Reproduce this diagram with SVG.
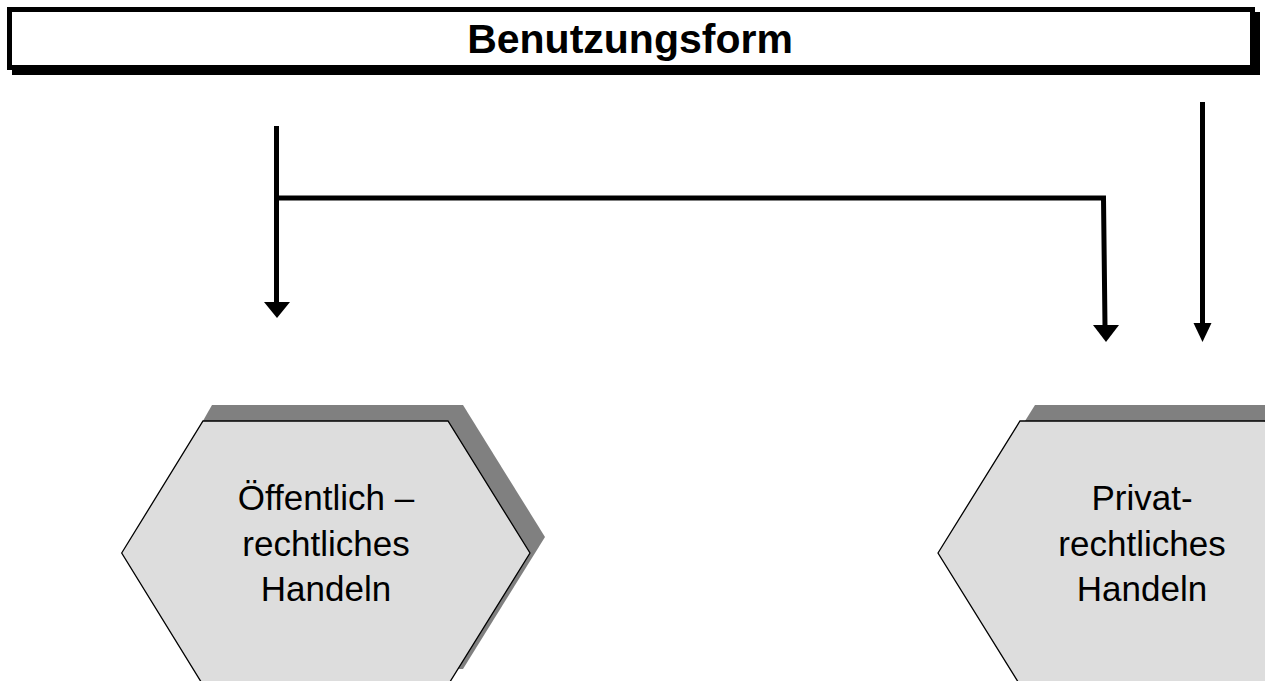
<svg xmlns="http://www.w3.org/2000/svg" width="1265" height="681" viewBox="0 0 1265 681">
<style>
.title{font-family:"Liberation Sans",Arial,sans-serif;font-weight:bold;font-size:41px;fill:#000;text-anchor:middle}
.lbl{font-family:"Liberation Sans",Arial,sans-serif;font-size:35px;fill:#000;text-anchor:middle}
.shadow{fill:#808080;stroke:none}
.hex{fill:#dddddd;stroke:#000;stroke-width:1.3}
.conn{fill:none;stroke:#000;stroke-width:5}
.head{fill:#000;stroke:none}
</style>
<rect width="1265" height="681" fill="#fff"/>
<g id="header">
<rect x="12" y="12" width="1248" height="63" fill="#000"/>
<rect x="9.5" y="9.5" width="1243" height="58" fill="#fff" stroke="#000" stroke-width="5"/>
<text class="title" x="630" y="53">Benutzungsform</text>
</g>
<g id="connectors">
<line class="conn" x1="276.5" y1="126" x2="276.5" y2="303"/>
<polygon class="head" points="264,302 290,302 277,318"/>
<polyline class="conn" points="276.5,198 1103.5,198 1105,326"/>
<polygon class="head" points="1093,325 1119,325 1106,342"/>
<line class="conn" x1="1202.5" y1="102" x2="1202.5" y2="325"/>
<polygon class="head" points="1193.5,323 1211.5,323 1202.5,342"/>
</g>
<g id="node-oeffentlich">
<polygon class="shadow" points="137,537 212,405 463,405 545,537 463,669 218,669"/>
<polygon class="hex" points="121.7,553 203,421 448,421 530,553 448,685 203,685"/>
<text class="lbl" x="326" y="510">Öffentlich –</text>
<text class="lbl" x="326" y="555.5">rechtliches</text>
<text class="lbl" x="326" y="601">Handeln</text>
</g>
<g id="node-privat">
<polygon class="shadow" points="953,537 1035,405 1280,405 1361,537 1280,669 1035,669"/>
<polygon class="hex" points="938,553 1020,421 1265,421 1346,553 1265,685 1020,685"/>
<text class="lbl" x="1142" y="510">Privat-</text>
<text class="lbl" x="1142" y="555.5">rechtliches</text>
<text class="lbl" x="1142" y="601">Handeln</text>
</g>
</svg>
